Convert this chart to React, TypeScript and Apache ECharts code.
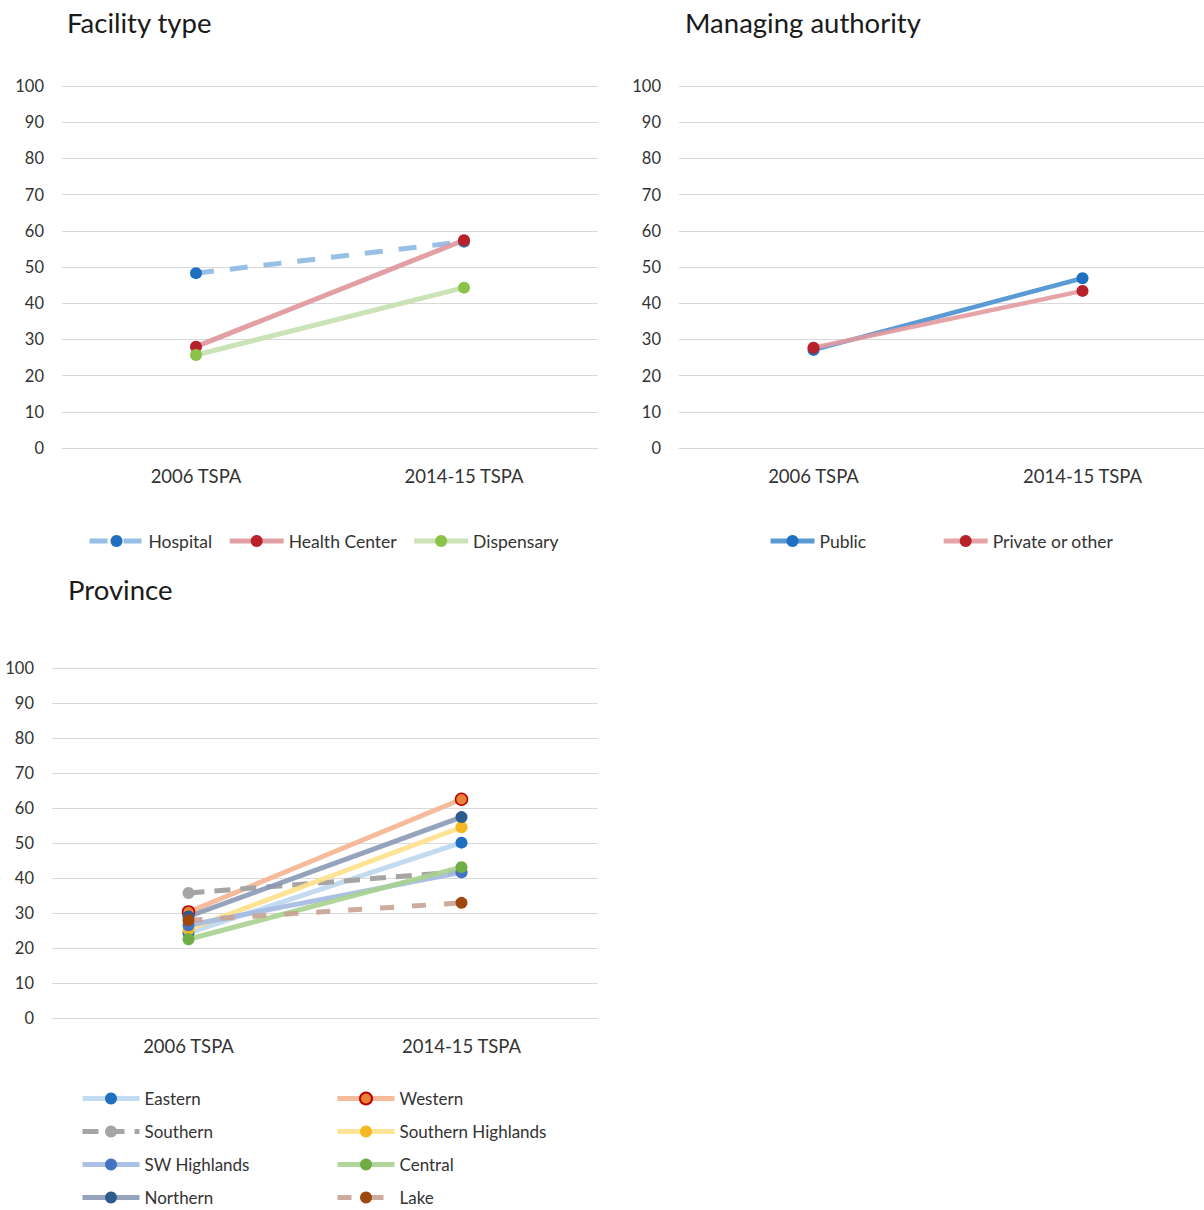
import React, { useEffect, useRef } from "react";
import * as echarts from "echarts";

const categories = ["2006 TSPA", "2014-15 TSPA"];
const yTicks = [0, 100, 10];

const hospital = [48.3, 57.0];
const healthCenter = [28.0, 57.4];
const dispensary = [25.7, 44.3];

const publicAuth = [27.1, 46.9];
const privateAuth = [27.7, 43.4];

const eastern = [24.3, 50.1];
const western = [30.3, 62.5];
const southern = [35.7, 41.8];
const southernHighlands = [25.3, 54.5];
const swHighlands = [26.5, 41.6];
const central = [22.5, 43.1];
const northern = [29.0, 57.4];
const lake = [27.9, 32.9];

const FONT = "Lato";
const TXT = "#333333";

function mk(name: string, data: number[], idx: number, line: string, marker: string, opts: any = {}) {
  return {
    type: "line",
    name,
    xAxisIndex: idx,
    yAxisIndex: idx,
    data,
    symbol: "circle",
    symbolSize: 12,
    lineStyle: { color: line, width: opts.width || 5, type: opts.dash || "solid", opacity: opts.opacity ?? 0.9 },
    itemStyle: { color: marker, borderColor: opts.border || marker, borderWidth: opts.border ? 1.5 : 0 },
    emphasis: { disabled: true },
    z: 2,
  };
}

function xAx(idx: number) {
  return {
    type: "category",
    gridIndex: idx,
    data: categories,
    boundaryGap: true,
    axisLine: { lineStyle: { color: "#D9D9D9", width: 1 } },
    axisTick: { show: false },
    axisLabel: { color: TXT, fontFamily: FONT, fontSize: 18.5, margin: 18 },
  };
}
function yAx(idx: number) {
  return {
    type: "value",
    gridIndex: idx,
    min: yTicks[0],
    max: yTicks[1],
    interval: yTicks[2],
    axisLine: { show: false },
    axisTick: { show: false },
    splitLine: { lineStyle: { color: "#D9D9D9", width: 1 } },
    axisLabel: { color: TXT, fontFamily: FONT, fontSize: 16.5, margin: 18 },
  };
}

export default function App() {
  const ref = useRef<HTMLDivElement>(null);
  useEffect(() => {
    const chart = echarts.init(ref.current!, null, { renderer: "svg" });
    const legendText = { color: TXT, fontFamily: FONT, fontSize: 17.5, lineHeight: 14 };
    const lg = { padding: 0, itemHeight: 15, lineStyle: { width: 5 }, textStyle: legendText, height: 300 };
    const lg2 = { ...lg, textStyle: { ...legendText, fontSize: 17 } };
    const titleStyle = { fontFamily: FONT, fontSize: 27.5, fontWeight: "normal", color: "#1a1a1a" };
    chart.setOption({
      animation: false,
      backgroundColor: "#ffffff",
      title: [
        { text: "Facility type", left: 62, top: 3, textStyle: titleStyle },
        { text: "Managing authority", left: 680, top: 3, textStyle: titleStyle },
        { text: "Province", left: 63, top: 570, textStyle: titleStyle },
      ],
      grid: [
        { left: 62, top: 86, width: 536, height: 362 },
        { left: 679, top: 86, width: 538, height: 362 },
        { left: 52, top: 668, width: 546, height: 350 },
      ],
      xAxis: [xAx(0), xAx(1), xAx(2)],
      yAxis: [yAx(0), yAx(1), yAx(2)],
      legend: [
        { ...lg, data: ["Hospital", "Health Center", "Dispensary"], left: 87, top: 532, itemWidth: 54, itemGap: 15 },
        { ...lg, data: ["Public", "Private or other"], left: 768, top: 532, itemWidth: 44, itemGap: 75 },
        { ...lg2, data: ["Eastern", "Southern", "SW Highlands", "Northern"], orient: "vertical", left: 80, top: 1090, itemWidth: 57, itemGap: 16 },
        { ...lg2, data: ["Western", "Southern Highlands", "Central", "Lake"], orient: "vertical", left: 335, top: 1090, itemWidth: 57, itemGap: 16 },
      ],
      series: [
        mk("Hospital", hospital, 0, "#8DB8E2", "#1F70C1", { dash: [18, 16] }),
        mk("Health Center", healthCenter, 0, "#E0969A", "#B8202A"),
        mk("Dispensary", dispensary, 0, "#C5E0AE", "#8BC34A"),
        mk("Public", publicAuth, 1, "#5B9BD5", "#1F70C1", { width: 4.5, opacity: 1 }),
        mk("Private or other", privateAuth, 1, "#E39A9E", "#B8202A", { width: 4.5 }),
        mk("Eastern", eastern, 2, "#BDD7EE", "#1F70C1"),
        mk("Western", western, 2, "#F4B490", "#E8833A", { border: "#C00000" }),
        mk("Southern", southern, 2, "#A5A5A5", "#A5A5A5", { dash: [16, 10], opacity: 1 }),
        mk("Southern Highlands", southernHighlands, 2, "#FFE08A", "#F4B922"),
        mk("SW Highlands", swHighlands, 2, "#A3B9E2", "#4472C4"),
        mk("Central", central, 2, "#A9D18E", "#70AD47"),
        mk("Northern", northern, 2, "#8A9AB5", "#2E5B8E"),
        mk("Lake", lake, 2, "#C8A294", "#9E480E", { dash: [14, 18] }),
      ],
    });
    return () => chart.dispose();
  }, []);
  return (
    <div style={{ position: "fixed", left: 0, top: 0, width: 1204, height: 1210, overflow: "hidden", background: "#fff" }}>
      <div ref={ref} style={{ width: 1240, height: 1210 }} />
    </div>
  );
}
